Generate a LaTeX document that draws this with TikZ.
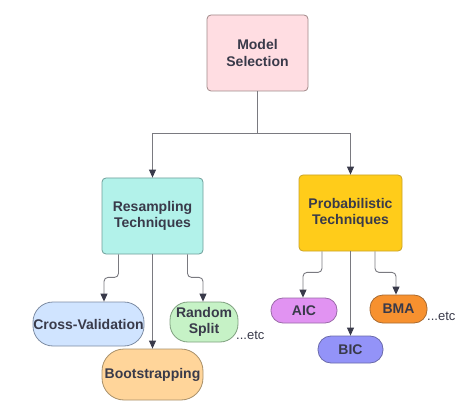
\documentclass[tikz,border=0pt]{standalone}
\usepackage{fontspec}
\setmainfont{Liberation Sans}
\usetikzlibrary{calc,arrows.meta}
\definecolor{txt}{HTML}{393A4A}
\definecolor{ln}{HTML}{7A7A80}
\definecolor{msF}{HTML}{FFDDE2}\definecolor{msD}{HTML}{A08888}
\definecolor{rsF}{HTML}{B2F2EA}\definecolor{rsD}{HTML}{6E9E99}
\definecolor{ptF}{HTML}{FFCC1A}\definecolor{ptD}{HTML}{C9A227}
\definecolor{cvF}{HTML}{D0E4FF}\definecolor{cvD}{HTML}{7D8CA3}
\definecolor{spF}{HTML}{C6F2C6}\definecolor{spD}{HTML}{7FA07F}
\definecolor{bsF}{HTML}{FFD59A}\definecolor{bsD}{HTML}{A8906A}
\definecolor{aicF}{HTML}{E193F2}\definecolor{aicD}{HTML}{9A6AA8}
\definecolor{bmaF}{HTML}{F7912F}\definecolor{bmaD}{HTML}{A86A30}
\definecolor{bicF}{HTML}{9393F8}\definecolor{bicD}{HTML}{6A6AAA}
\tikzset{
  lbl/.style={font=\fontsize{14}{16.5}\selectfont\bfseries, text=txt, align=center, inner sep=0pt},
  box/.style={lbl, draw, line width=0.8pt, rounded corners=4pt},
  pill/.style={lbl, draw, line width=0.8pt},
  conn/.style={draw=ln, line width=0.9pt, rounded corners=4pt, -{Triangle[length=8pt,width=7pt,fill=txt,color=txt]}},
  etc/.style={font=\fontsize{13}{15}\selectfont, text=txt, inner sep=0pt}
}
\begin{document}
\begin{tikzpicture}[x=1pt,y=-1pt]
\useasboundingbox (0,0) rectangle (474,417);
% main boxes
\node[box, fill=msF, draw=msD, minimum width=101pt, minimum height=76pt] (ms) at (257.5,53) {Model\\Selection};
\node[box, fill=rsF, draw=rsD, minimum width=101pt, minimum height=76pt] (rs) at (152.5,216) {Resampling\\Techniques};
\node[box, fill=ptF, draw=ptD, minimum width=103pt, minimum height=76pt] (pt) at (350.5,213) {Probabilistic\\Techniques};
% leaves
\node[pill, fill=cvF, draw=cvD, minimum width=111pt, minimum height=44pt, rounded corners=20pt] (cv) at (88.5,324) {Cross-Validation};
\node[pill, fill=spF, draw=spD, minimum width=68pt, minimum height=40pt, rounded corners=18pt] (sp) at (204,322) {Random\\Split};
\node[pill, fill=bsF, draw=bsD, minimum width=101pt, minimum height=51pt, rounded corners=22pt] (bs) at (152.5,374.5) {Bootstrapping};
\node[pill, fill=aicF, draw=aicD, minimum width=66pt, minimum height=25pt, rounded corners=12pt] (aic) at (304,310.5) {AIC};
\node[pill, fill=bmaF, draw=bmaD, minimum width=57pt, minimum height=28pt, rounded corners=13pt] (bma) at (398.5,309) {BMA};
\node[pill, fill=bicF, draw=bicD, minimum width=65pt, minimum height=27pt, rounded corners=13pt] (bic) at (350.5,349.5) {BIC};
\node[etc, anchor=west] (e1) at (236,335) {...etc};
\node[etc, anchor=west] (e2) at (427,316) {...etc};
% connectors from Model Selection
\coordinate (j) at ($(ms.south)+(0,42)$);
\draw[draw=ln, line width=0.9pt] (ms.south) -- (j);
\draw[conn, rounded corners=0pt] (j) -| (rs.north);
\draw[conn, rounded corners=0pt] (j) -| (pt.north);
% resampling children
\draw[conn] ($(rs.south)+(-34,0)$) -- ++(0,23) -| ($(cv.north)+(15.5,0)$);
\draw[conn] (rs.south) -- (bs.north);
\draw[conn] ($(rs.south)+(35,0)$) -- ++(0,23) -| ($(sp.north)+(-1,0)$);
% probabilistic children
\draw[conn] ($(pt.south)+(-28.5,0)$) -- ++(0,21) -| ($(aic.north)+(-1,0)$);
\draw[conn] (pt.south) -- (bic.north);
\draw[conn] ($(pt.south)+(24.5,0)$) -- ++(0,21) -| ($(bma.north)+(-2.5,0)$);
\end{tikzpicture}
\end{document}
